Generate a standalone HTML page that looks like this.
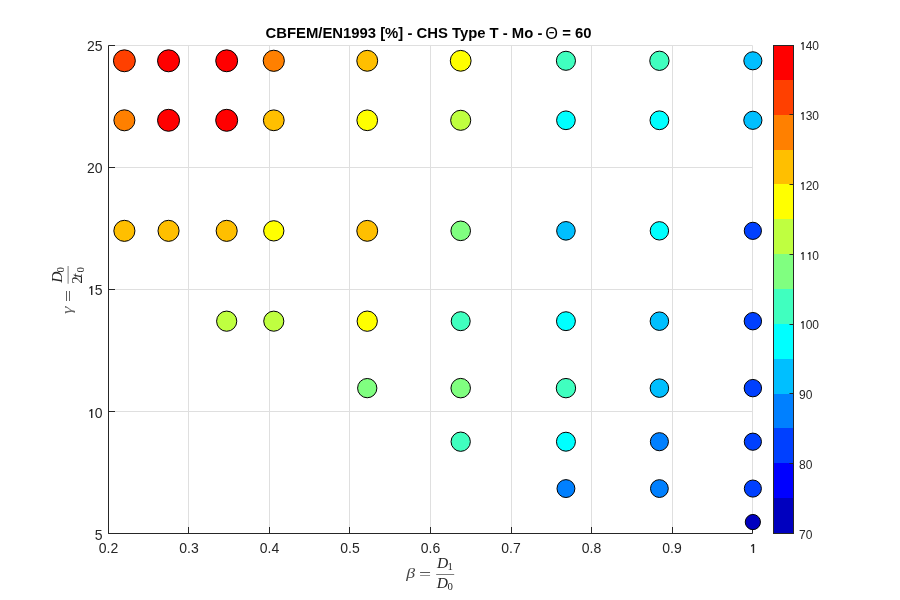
<!DOCTYPE html>
<html><head><meta charset="utf-8"><title>CBFEM/EN1993 [%] - CHS Type T - Mo</title>
<style>html,body{margin:0;padding:0;background:#fff;width:900px;height:600px;overflow:hidden}svg{display:block;will-change:transform}
.t{font-family:"Liberation Sans",Arial,sans-serif;fill:#262626}
.m{font-family:"Liberation Serif","Times New Roman",serif;fill:#262626}
</style></head><body>
<svg width="900" height="600" viewBox="0 0 900 600">
<rect width="900" height="600" fill="#fff"/>
<g stroke="#dfdfdf" stroke-width="1" fill="none"><line x1="108.5" y1="45.5" x2="108.5" y2="533.5"/><line x1="188.5" y1="45.5" x2="188.5" y2="533.5"/><line x1="269.5" y1="45.5" x2="269.5" y2="533.5"/><line x1="349.5" y1="45.5" x2="349.5" y2="533.5"/><line x1="430.5" y1="45.5" x2="430.5" y2="533.5"/><line x1="511.5" y1="45.5" x2="511.5" y2="533.5"/><line x1="591.5" y1="45.5" x2="591.5" y2="533.5"/><line x1="672.5" y1="45.5" x2="672.5" y2="533.5"/><line x1="752.5" y1="45.5" x2="752.5" y2="533.5"/><line x1="108.5" y1="533.5" x2="752.5" y2="533.5"/><line x1="108.5" y1="411.5" x2="752.5" y2="411.5"/><line x1="108.5" y1="289.5" x2="752.5" y2="289.5"/><line x1="108.5" y1="167.5" x2="752.5" y2="167.5"/><line x1="108.5" y1="45.5" x2="752.5" y2="45.5"/></g>
<g stroke="#262626" stroke-width="1" fill="none"><path d="M108.5 45.5V533.5H752.5"/><line x1="108.5" y1="533.5" x2="108.5" y2="527.0"/><line x1="188.5" y1="533.5" x2="188.5" y2="527.0"/><line x1="269.5" y1="533.5" x2="269.5" y2="527.0"/><line x1="349.5" y1="533.5" x2="349.5" y2="527.0"/><line x1="430.5" y1="533.5" x2="430.5" y2="527.0"/><line x1="511.5" y1="533.5" x2="511.5" y2="527.0"/><line x1="591.5" y1="533.5" x2="591.5" y2="527.0"/><line x1="672.5" y1="533.5" x2="672.5" y2="527.0"/><line x1="752.5" y1="533.5" x2="752.5" y2="527.0"/><line x1="108.5" y1="533.5" x2="115.0" y2="533.5"/><line x1="108.5" y1="411.5" x2="115.0" y2="411.5"/><line x1="108.5" y1="289.5" x2="115.0" y2="289.5"/><line x1="108.5" y1="167.5" x2="115.0" y2="167.5"/><line x1="108.5" y1="45.5" x2="115.0" y2="45.5"/></g>
<g class="t" font-size="14"><text x="98.77" y="553">0.2</text><text x="179.27" y="553">0.3</text><text x="259.77" y="553">0.4</text><text x="340.27" y="553">0.5</text><text x="420.77" y="553">0.6</text><text x="501.27" y="553">0.7</text><text x="581.77" y="553">0.8</text><text x="662.27" y="553">0.9</text><text x="748.61" y="553"><tspan dx="0.56" font-family="NanumGothic,Liberation Sans,sans-serif" font-weight="bold" font-size="12.95">1</tspan></text></g>
<g class="t" font-size="14"><text x="94.72" y="540">5</text><text x="86.93" y="418"><tspan dx="0.56" font-family="NanumGothic,Liberation Sans,sans-serif" font-weight="bold" font-size="12.95">1</tspan><tspan dx="-0.62">0</tspan></text><text x="86.93" y="295"><tspan dx="0.56" font-family="NanumGothic,Liberation Sans,sans-serif" font-weight="bold" font-size="12.95">1</tspan><tspan dx="-0.62">5</tspan></text><text x="86.93" y="173">20</text><text x="86.93" y="51">25</text></g>
<g stroke="#000" stroke-width="1"><circle cx="124.38" cy="60.79" r="10.95" fill="#FF4000"/><circle cx="168.54" cy="60.79" r="11.00" fill="#FF0000"/><circle cx="226.68" cy="60.79" r="10.95" fill="#FF0000"/><circle cx="273.78" cy="60.79" r="10.60" fill="#FF8000"/><circle cx="367.24" cy="60.79" r="10.45" fill="#FFBF00"/><circle cx="460.70" cy="60.79" r="10.40" fill="#FFFF00"/><circle cx="565.94" cy="60.79" r="9.55" fill="#40FFBF"/><circle cx="659.40" cy="60.79" r="9.65" fill="#40FFBF"/><circle cx="752.86" cy="60.79" r="9.05" fill="#00BFFF"/><circle cx="124.38" cy="120.30" r="10.50" fill="#FF8000"/><circle cx="168.54" cy="120.30" r="11.00" fill="#FF0000"/><circle cx="226.68" cy="120.30" r="11.00" fill="#FF0000"/><circle cx="273.78" cy="120.30" r="10.40" fill="#FFBF00"/><circle cx="367.24" cy="120.30" r="10.35" fill="#FFFF00"/><circle cx="460.70" cy="120.30" r="10.05" fill="#BFFF40"/><circle cx="565.94" cy="120.30" r="9.35" fill="#00FFFF"/><circle cx="659.40" cy="120.30" r="9.40" fill="#00FFFF"/><circle cx="752.86" cy="120.30" r="9.10" fill="#00BFFF"/><circle cx="124.38" cy="230.84" r="10.55" fill="#FFBF00"/><circle cx="168.54" cy="230.84" r="10.55" fill="#FFBF00"/><circle cx="226.68" cy="230.84" r="10.55" fill="#FFBF00"/><circle cx="273.78" cy="230.84" r="10.15" fill="#FFFF00"/><circle cx="367.24" cy="230.84" r="10.45" fill="#FFBF00"/><circle cx="460.70" cy="230.84" r="9.80" fill="#80FF80"/><circle cx="565.94" cy="230.84" r="9.30" fill="#00BFFF"/><circle cx="659.40" cy="230.84" r="9.20" fill="#00FFFF"/><circle cx="752.86" cy="230.84" r="8.60" fill="#0040FF"/><circle cx="226.68" cy="321.18" r="10.10" fill="#BFFF40"/><circle cx="273.78" cy="321.18" r="10.05" fill="#BFFF40"/><circle cx="367.24" cy="321.18" r="10.15" fill="#FFFF00"/><circle cx="460.70" cy="321.18" r="9.50" fill="#40FFBF"/><circle cx="565.94" cy="321.18" r="9.45" fill="#00FFFF"/><circle cx="659.40" cy="321.18" r="9.25" fill="#00BFFF"/><circle cx="752.86" cy="321.18" r="8.70" fill="#0040FF"/><circle cx="367.24" cy="388.13" r="9.65" fill="#80FF80"/><circle cx="460.70" cy="388.13" r="9.75" fill="#80FF80"/><circle cx="565.94" cy="388.13" r="9.70" fill="#40FFBF"/><circle cx="659.40" cy="388.13" r="9.25" fill="#00BFFF"/><circle cx="752.86" cy="388.13" r="8.70" fill="#0040FF"/><circle cx="460.70" cy="441.70" r="9.65" fill="#40FFBF"/><circle cx="565.94" cy="441.70" r="9.50" fill="#00FFFF"/><circle cx="659.40" cy="441.70" r="9.05" fill="#0080FF"/><circle cx="752.86" cy="441.70" r="8.60" fill="#0040FF"/><circle cx="565.94" cy="488.57" r="8.95" fill="#0080FF"/><circle cx="659.40" cy="488.57" r="8.90" fill="#0080FF"/><circle cx="752.86" cy="488.57" r="8.55" fill="#0040FF"/><circle cx="752.86" cy="522.05" r="7.60" fill="#0000BF"/></g>
<g><g shape-rendering="crispEdges"><rect x="773.5" y="498" width="20.0" height="35" fill="#0000BF"/><rect x="773.5" y="463" width="20.0" height="35" fill="#0000FF"/><rect x="773.5" y="428" width="20.0" height="35" fill="#0040FF"/><rect x="773.5" y="394" width="20.0" height="34" fill="#0080FF"/><rect x="773.5" y="359" width="20.0" height="35" fill="#00BFFF"/><rect x="773.5" y="324" width="20.0" height="35" fill="#00FFFF"/><rect x="773.5" y="289" width="20.0" height="35" fill="#40FFBF"/><rect x="773.5" y="254" width="20.0" height="35" fill="#80FF80"/><rect x="773.5" y="219" width="20.0" height="35" fill="#BFFF40"/><rect x="773.5" y="184" width="20.0" height="35" fill="#FFFF00"/><rect x="773.5" y="150" width="20.0" height="34" fill="#FFBF00"/><rect x="773.5" y="115" width="20.0" height="35" fill="#FF8000"/><rect x="773.5" y="80" width="20.0" height="35" fill="#FF4000"/><rect x="773.5" y="45" width="20.0" height="35" fill="#FF0000"/></g><rect x="773.5" y="45.5" width="20.0" height="488.0" fill="none" stroke="#262626" stroke-width="1"/><g stroke="#262626" stroke-width="1"><line x1="789.5" y1="463.5" x2="793.5" y2="463.5"/><line x1="789.5" y1="393.5" x2="793.5" y2="393.5"/><line x1="789.5" y1="324.5" x2="793.5" y2="324.5"/><line x1="789.5" y1="254.5" x2="793.5" y2="254.5"/><line x1="789.5" y1="184.5" x2="793.5" y2="184.5"/><line x1="789.5" y1="114.5" x2="793.5" y2="114.5"/></g><g class="t" font-size="12"><text x="799" y="539">70</text><text x="799" y="469">80</text><text x="799" y="399">90</text><text x="799" y="329"><tspan dx="0.48" font-family="NanumGothic,Liberation Sans,sans-serif" font-weight="bold" font-size="11.10">1</tspan><tspan dx="-0.53">0</tspan>0</text><text x="799" y="260"><tspan dx="0.48" font-family="NanumGothic,Liberation Sans,sans-serif" font-weight="bold" font-size="11.10">1</tspan><tspan dx="-0.05" font-family="NanumGothic,Liberation Sans,sans-serif" font-weight="bold" font-size="11.10">1</tspan><tspan dx="-0.53">0</tspan></text><text x="799" y="190"><tspan dx="0.48" font-family="NanumGothic,Liberation Sans,sans-serif" font-weight="bold" font-size="11.10">1</tspan><tspan dx="-0.53">2</tspan>0</text><text x="799" y="120"><tspan dx="0.48" font-family="NanumGothic,Liberation Sans,sans-serif" font-weight="bold" font-size="11.10">1</tspan><tspan dx="-0.53">3</tspan>0</text><text x="799" y="50"><tspan dx="0.48" font-family="NanumGothic,Liberation Sans,sans-serif" font-weight="bold" font-size="11.10">1</tspan><tspan dx="-0.53">4</tspan>0</text></g></g>
<text x="428.5" y="38" text-anchor="middle" font-family="Liberation Sans,Arial,sans-serif" font-weight="bold" font-size="14.85" fill="#000">CBFEM/EN1993 [%] - CHS Type T - Mo - <tspan dx="-1.1" dy="0.9" font-weight="normal" font-size="16.3">&#920;</tspan><tspan dy="-0.9"> = 60</tspan></text>
<g class="m"><text transform="translate(406.3 577.8) scale(1.15 1)" font-size="15.5" font-style="italic" fill="#444">&#946;</text><text transform="translate(418.9 579) scale(1.43 1)" font-size="15">=</text><line x1="436.2" y1="574.5" x2="454.2" y2="574.5" stroke="#262626" stroke-width="0.6"/><text x="436.97" y="567.7" font-size="15.5" font-style="italic">D</text><text x="447.55" y="569.9" font-size="10.8">1</text><text x="436.67" y="587.6" font-size="15.5" font-style="italic">D</text><text x="447.49" y="590" font-size="10.8">0</text></g>
<g class="m" transform="translate(68.1 289.5) rotate(-90)"><text transform="translate(-24.44 3.85) scale(1.3 1)" font-size="14.7" font-style="italic" fill="#666">&#947;</text><text transform="translate(-12.48 4.88) scale(1.43 1)" font-size="15">=</text><line x1="5.75" y1="0" x2="23.5" y2="0" stroke="#262626" stroke-width="0.6"/><text x="6.67" y="-6.35" font-size="15.5" font-style="italic">D</text><text x="17.1" y="-4.2" font-size="10.8">0</text><text x="5.84" y="13.9" font-size="15">2</text><text x="11.84" y="13.9" font-size="15" font-style="italic">t</text><text x="17.1" y="15.8" font-size="10.8">0</text></g>
</svg>
</body></html>
